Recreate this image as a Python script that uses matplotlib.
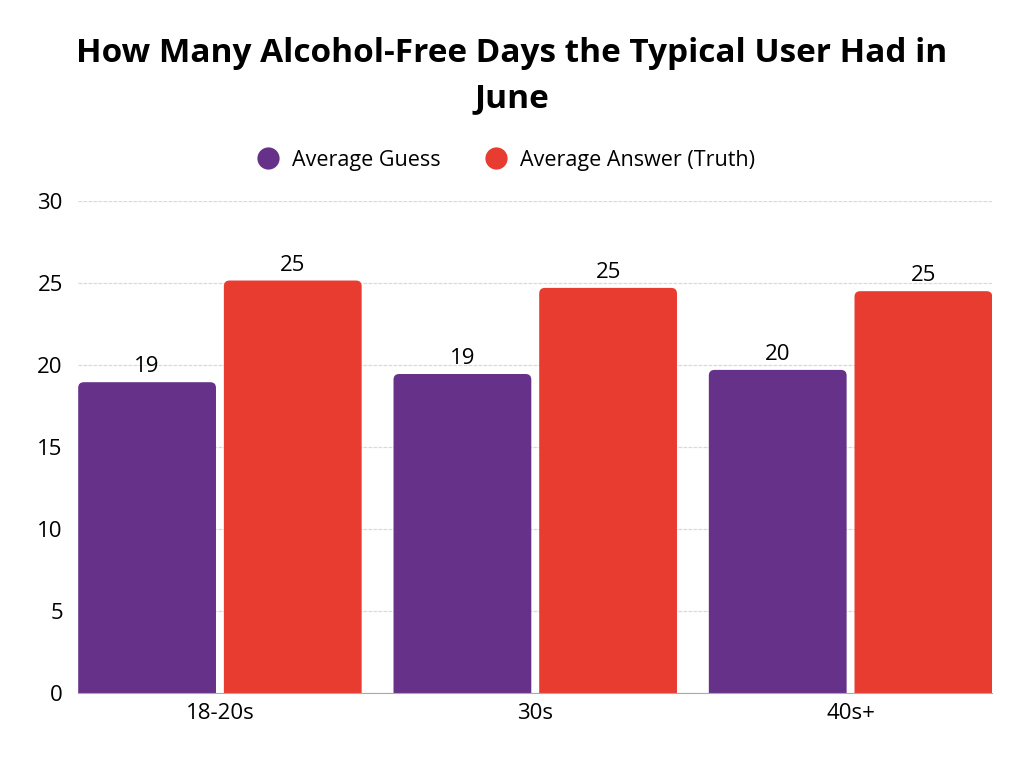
import matplotlib.pyplot as plt
from matplotlib.patches import FancyBboxPatch
from matplotlib.lines import Line2D
import numpy as np

groups = ['18-20s', '30s', '40s+']
guess = [18.95, 19.45, 19.7]
truth = [25.15, 24.7, 24.5]
guess_labels = ['19', '19', '20']
truth_labels = ['25', '25', '25']

purple = '#663289'
red = '#E83C31'

plt.rcParams['font.family'] = ['Open Sans', 'DejaVu Sans']

fig = plt.figure(figsize=(10.24, 7.68), dpi=100)
ax = fig.add_axes([0.0762, 0.0977, 0.893, 0.6406])

x = np.arange(len(groups))
w = 0.437
off = 0.231
ax.set_xlim(-0.45, 2.45)
ax.set_ylim(0, 30)

# y units per x unit in pixels, for round corners
aspect = 315.5 / 16.4
r = 0.018


def rbar(xc, h, color):
    p = FancyBboxPatch((xc - w / 2, -2), w, h + 2,
                       boxstyle=f"round,pad=0,rounding_size={r}",
                       mutation_aspect=aspect, fc=color, ec='none', zorder=3)
    ax.add_patch(p)


for i in range(len(groups)):
    rbar(x[i] - off, guess[i], purple)
    rbar(x[i] + off, truth[i], red)
    ax.text(x[i] - off, guess[i] + 0.3, guess_labels[i], ha='center', va='bottom', fontsize=16)
    ax.text(x[i] + off, truth[i] + 0.3, truth_labels[i], ha='center', va='bottom', fontsize=16)

ax.set_yticks([0, 5, 10, 15, 20, 25, 30])
ax.yaxis.grid(True, color='#d9d9d9', linestyle=(0, (3, 1)), linewidth=0.9, zorder=0)
ax.set_xticks(x)
ax.set_xticklabels(groups)
ax.tick_params(axis='both', length=0, labelsize=16, colors='black')
ax.tick_params(axis='y', pad=11)
ax.tick_params(axis='x', pad=7)
for s in ['top', 'right', 'left']:
    ax.spines[s].set_visible(False)
ax.spines['bottom'].set_color('#aaaaaa')
ax.spines['bottom'].set_zorder(4)

fig.text(0.5, 0.930, 'How Many Alcohol-Free Days the Typical User Had in', ha='center', va='center',
         fontsize=24, fontweight='bold')
fig.text(0.5, 0.872, 'June', ha='center', va='center', fontsize=24, fontweight='bold')

handles = [Line2D([], [], marker='o', ls='none', ms=16, mfc=purple, mec='none', label='Average Guess'),
           Line2D([], [], marker='o', ls='none', ms=16, mfc=red, mec='none', label='Average Answer (Truth)')]
fig.legend(handles=handles, loc='center', bbox_to_anchor=(0.489, 0.791), ncol=2, frameon=False,
           fontsize=15.5, handletextpad=0.1, columnspacing=1.6)

plt.savefig('out.png', dpi=100)
